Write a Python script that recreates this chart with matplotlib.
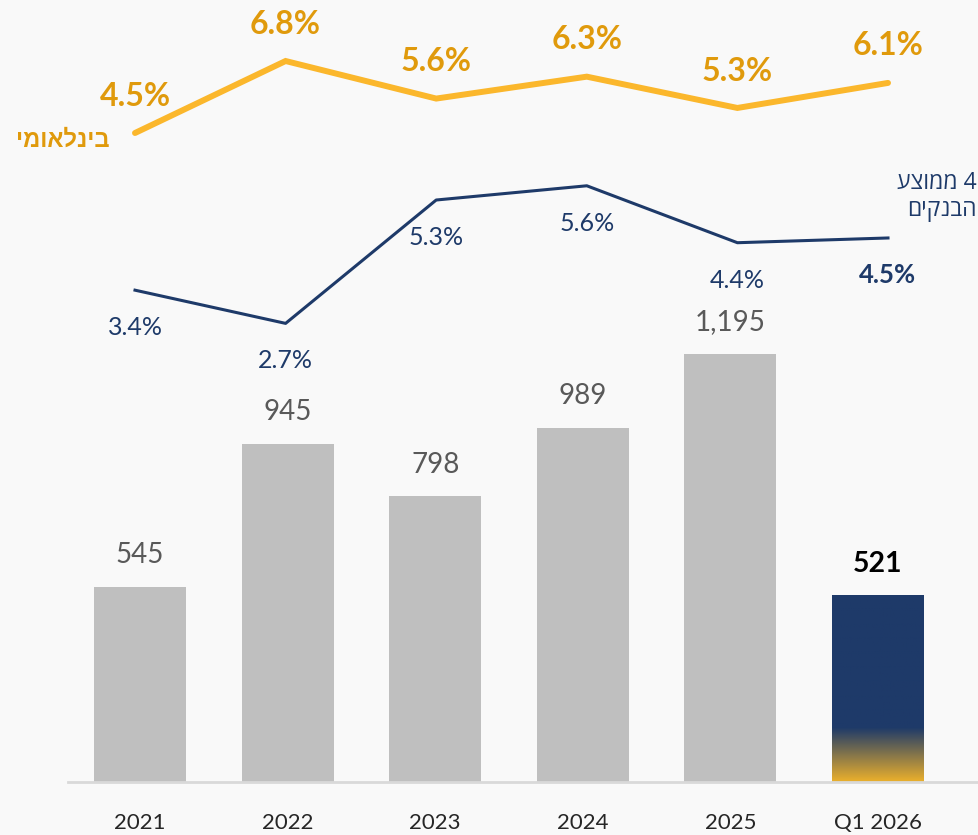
import matplotlib
matplotlib.use("Agg")
import matplotlib.pyplot as plt
import numpy as np
from matplotlib.colors import to_rgb

# ---------------- data ----------------
categories = ["2021", "2022", "2023", "2024", "2025", "Q1 2026"]
bar_values = [545, 945, 798, 989, 1195, 521]
intl_values = [4.5, 6.8, 5.6, 6.3, 5.3, 6.1]
banks_values = [3.4, 2.7, 5.3, 5.6, 4.4, 4.5]
intl_name = "בינלאומי"
banks_name_l1 = "ממוצע 4"
banks_name_l2 = "הבנקים"


def visual(s):
    # matplotlib has no bidi support: lay out Hebrew words in visual order
    res = []
    for t in s.split(" "):
        if any("\u0590" <= c <= "\u05FF" for c in t):
            res.append(t[::-1])
        else:
            res.append(t)
    return " ".join(res)


BG = "#F9F9F9"
GRAY_BAR = "#BFBFBF"
GRAY_TXT = "#595959"
YEL_LINE = "#FBB72C"
YEL_TXT = "#E09A0C"
NAVY = "#1E3A69"
GOLD = "#EBB02C"

plt.rcParams["font.family"] = ["Lato", "DejaVu Sans"]
HEB = ["Open Sans", "Liberation Sans", "DejaVu Sans"]

W, H = 979, 835
fig = plt.figure(figsize=(W / 100, H / 100), dpi=100, facecolor=BG)
rect = [68 / W, (H - 782) / H, (W - 68) / W, 782 / H]

# bar axes
ax = fig.add_axes(rect)
ax.set_facecolor(BG)
x = np.arange(len(categories))
px_per_cat = 147.6
x_lo = (68 - 140) / px_per_cat
x_hi = (979 - 140) / px_per_cat
y_top = 782 / 0.3578
bw = 92 / px_per_cat

colors = [GRAY_BAR] * (len(categories) - 1) + ["none"]
ax.bar(x, bar_values, width=bw, color=colors, zorder=2)

# gradient last bar
i = len(categories) - 1
n = 200
frac = np.linspace(0, 1, n)[:, None]  # 0 top -> 1 bottom
start = 0.71
t = np.clip((frac - start) / (1 - start), 0, 1)
c0 = np.array(to_rgb(NAVY))
c1 = np.array(to_rgb(GOLD))
img = (c0[None, None, :] * (1 - t[..., None]) + c1[None, None, :] * t[..., None])
ax.imshow(img, extent=(x[i] - bw / 2, x[i] + bw / 2, 0, bar_values[i]),
          aspect="auto", zorder=2, interpolation="bilinear")

ax.set_xlim(x_lo, x_hi)
ax.set_ylim(0, y_top)
for s in ["top", "left", "right"]:
    ax.spines[s].set_visible(False)
ax.spines["bottom"].set_color("#D9D9D9")
ax.spines["bottom"].set_linewidth(2)
ax.set_yticks([])
ax.set_xticks(x)
ax.set_xticklabels(categories, fontsize=16, color="#262626")
ax.tick_params(axis="x", length=0, pad=22)

for xi, v in zip(x, bar_values):
    last = xi == i
    ax.annotate(f"{v:,}", (xi, v), xytext=(0, 23), textcoords="offset points",
                ha="center", va="center", fontsize=20.5 if last else 20,
                color="black" if last else GRAY_TXT,
                fontweight="bold" if last else "normal")

# line axes
lx_px = 150.6
lx_lo = (68 - 135) / lx_px
lx_hi = (979 - 135) / lx_px

axy = fig.add_axes(rect)
axy.patch.set_visible(False)
axy.axis("off")
axy.set_xlim(lx_lo, lx_hi)
s_y = 31.3
axy.set_ylim(4.5 - 649 / s_y, 4.5 + 133 / s_y)
axy.plot(x, intl_values, color=YEL_LINE, lw=4.3, solid_capstyle="round",
         solid_joinstyle="miter")
for xi, v in zip(x, intl_values):
    axy.annotate(f"{v:.1f}%", (xi, v), xytext=(0, 26.6), textcoords="offset points",
                 ha="center", va="center", fontsize=23, fontweight="bold",
                 color=YEL_TXT)

axb = fig.add_axes(rect)
axb.patch.set_visible(False)
axb.axis("off")
axb.set_xlim(lx_lo, lx_hi)
s_b = 47.45
axb.set_ylim(4.3167 - 535.33 / s_b, 4.3167 + 246.67 / s_b)
axb.plot(x, banks_values, color=NAVY, lw=2.2)
for xi, v in zip(x, banks_values):
    last = xi == i
    axb.annotate(f"{v:.1f}%", (xi, v), xytext=(0, -27), textcoords="offset points",
                 ha="center", va="center", fontsize=18.5 if last else 18,
                 fontweight="bold" if last else "normal", color=NAVY)

# series names
fig.text(110 / W, 1 - 141 / H, visual(intl_name), ha="right", va="center",
         fontsize=17, fontweight="bold", color=YEL_TXT, family=HEB)
fig.text(977 / W, 1 - 183 / H, visual(banks_name_l1), ha="right", va="center",
         fontsize=16.5, color=NAVY, family=HEB)
fig.text(977 / W, 1 - 210 / H, visual(banks_name_l2), ha="right", va="center",
         fontsize=16.5, color=NAVY, family=HEB)

fig.savefig("out.png", dpi=100, facecolor=BG)
